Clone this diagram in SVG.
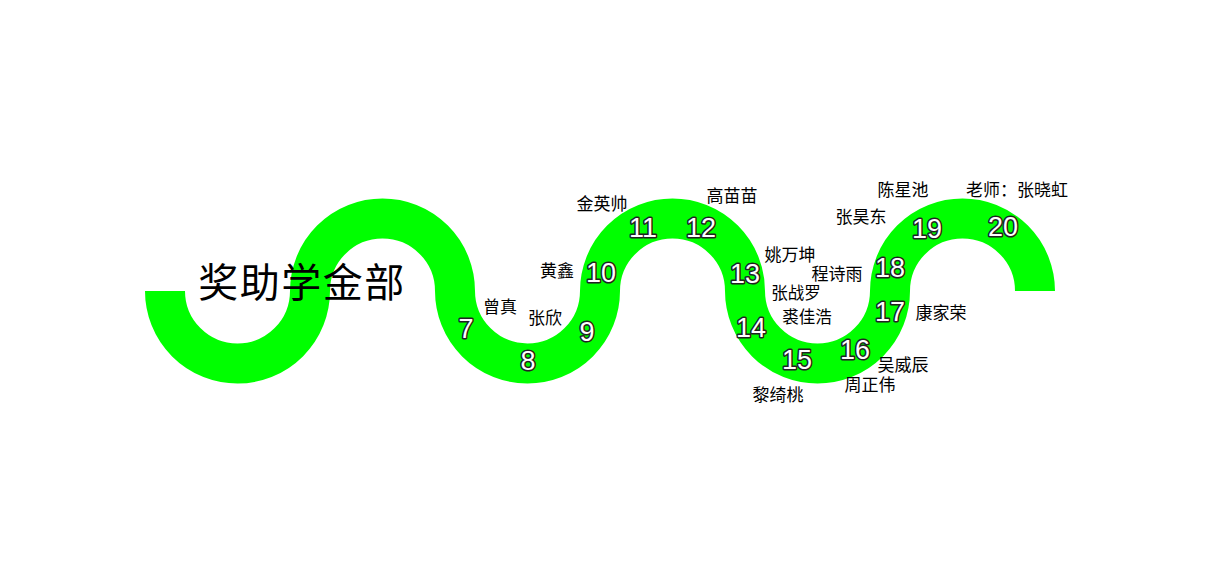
<svg xmlns="http://www.w3.org/2000/svg" width="1209" height="567" viewBox="0 0 1209 567">
<style>
.num{font-family:"Liberation Sans","Noto Sans",sans-serif;font-size:27px;fill:#fff;stroke:#222;stroke-width:3;paint-order:stroke;stroke-linejoin:round;text-anchor:middle}
.name{font-family:"Noto Sans CJK SC","Noto Sans",sans-serif;font-size:17px;fill:#000;text-anchor:middle}
.sm{font-size:16.5px}
.title{font-family:"Liberation Serif","Noto Sans CJK SC",serif;font-size:40px;fill:#000;text-anchor:middle;letter-spacing:1.5px}
</style>
<rect width="1209" height="567" fill="#fff"/>
<g id="connectors">
<path d="M165,291 A72.5,72.5 0 0 0 310,291 A72.5,72.5 0 0 1 455,291 A72.5,72.5 0 0 0 600,291 A72.5,72.5 0 0 1 745,291 A72.5,72.5 0 0 0 890,291 A72.5,72.5 0 0 1 1035,291" fill="none" stroke="#00ff00" stroke-width="40"/>
</g>
<g id="title"><text class="title" x="302" y="297">奖助学金部</text></g>
<g id="n7"><text class="num" x="466" y="338">7</text><text class="name" x="500" y="313">曾真</text></g>
<g id="n8"><text class="num" x="528" y="370">8</text><text class="name" x="545" y="324">张欣</text></g>
<g id="n9"><text class="num" x="587" y="341">9</text></g>
<g id="n10"><text class="num" x="601" y="282">10</text><text class="name" x="557" y="277">黄鑫</text></g>
<g id="n11"><text class="num" x="643" y="237">11</text><text class="name" x="602" y="210">金英帅</text></g>
<g id="n12"><text class="num" x="701" y="237">12</text><text class="name" x="732" y="202">高苗苗</text></g>
<g id="n13"><text class="num" x="745" y="283">13</text><text class="name" x="790" y="261">姚万坤</text></g>
<g id="n14"><text class="num" x="751" y="337">14</text><text class="name sm" x="796" y="299">张战罗</text><text class="name sm" x="807" y="323">裘佳浩</text></g>
<g id="n15"><text class="num" x="797" y="369">15</text><text class="name" x="778" y="401">黎绮桃</text></g>
<g id="n16"><text class="num" x="855" y="359">16</text><text class="name" x="870" y="391">周正伟</text><text class="name" x="903" y="371">吴威辰</text></g>
<g id="n17"><text class="num" x="890" y="321">17</text><text class="name" x="941" y="319">康家荣</text></g>
<g id="n18"><text class="num" x="890" y="277">18</text><text class="name" x="837" y="280">程诗雨</text></g>
<g id="n19"><text class="num" x="927" y="238">19</text><text class="name" x="861" y="223">张昊东</text><text class="name" x="903" y="196">陈星池</text></g>
<g id="n20"><text class="num" x="1003" y="236">20</text><text class="name" x="1017" y="196">老师：张晓虹</text></g>
</svg>
